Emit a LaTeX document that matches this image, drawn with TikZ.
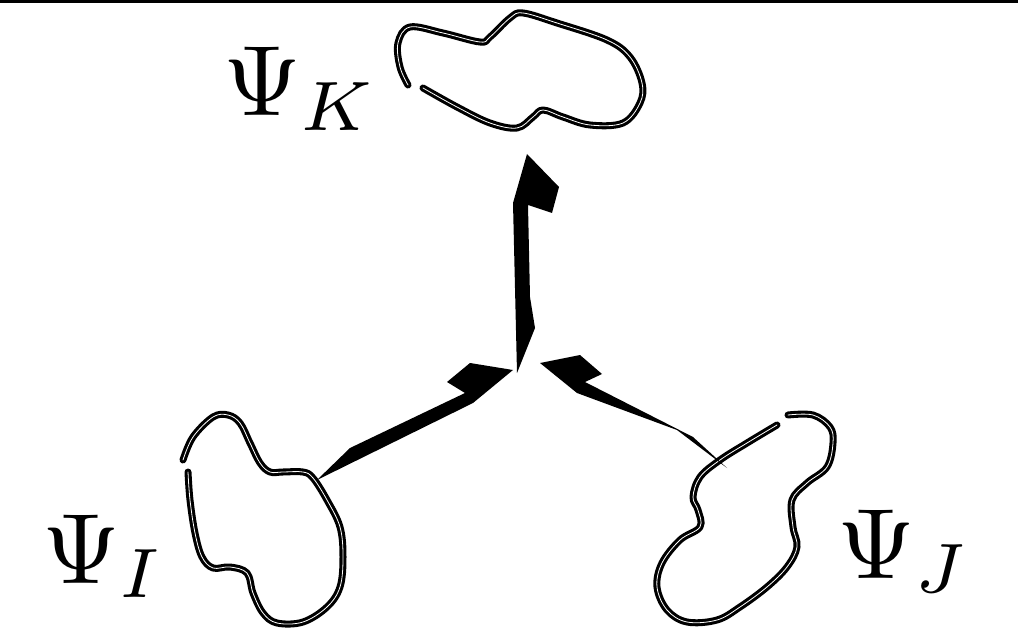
\documentclass[tikz,border=0pt]{standalone}
\begin{document}
\begin{tikzpicture}[x=1pt,y=-1pt,
  blob/.style={preaction={draw=black,line width=7pt,line cap=round,line join=round},draw=white,line width=0.8pt,line cap=round,line join=round},
  wedge/.style={fill=black,draw=none},
  lbl/.style={anchor=base west,inner sep=0pt,scale=10}]
\useasboundingbox (0,0) rectangle (1018,631);
\fill[black] (0,0) rectangle (1018,3.5);
% blobs
\draw[blob] plot[smooth,tension=0.6] coordinates {(423,88) (457,107) (490,123) (517,128) (533,117) (543,110) (563,117) (590,125) (623,123) (640,103) (642,83) (630,57) (607,40) (557,23) (523,13) (510,18) (490,37) (480,42) (443,33) (410,27) (398,43) (400,67) (408,85)};
\draw[blob] plot[smooth,tension=0.6] coordinates {(183,460) (193,437) (213,417) (228,415) (240,423) (250,443) (260,463) (270,472) (283,472) (303,472) (313,478) (327,500) (340,527) (343,557) (340,587) (327,607) (303,622) (277,623) (263,613) (253,593) (247,573) (230,567) (213,568) (202,557) (195,533) (190,500) (188,472)};
\draw[blob] plot[smooth,tension=0.6] coordinates {(788,415) (813,415) (830,427) (833,443) (827,467) (807,483) (792,500) (793,527) (797,547) (787,567) (767,587) (740,607) (717,620) (687,622) (667,610) (657,587) (662,563) (680,540) (700,527) (698,510) (693,497) (700,477) (720,460) (747,443) (777,425)};
% wedge arrows
\coordinate (kt) at (527,154);
\coordinate (kb) at (517,373);
\fill[wedge] (kt) -- (559,187) -- (552,213) -- (528,205) -- (530,297) -- (535,328) -- (kb) -- (513,203) -- cycle;
\coordinate (it) at (513,370);
\coordinate (ib) at (317,480);
\fill[wedge] (it) -- (473,403) -- (ib) -- (350,448) -- (465,393) -- (447,382) -- (470,363) -- cycle;
\coordinate (jt) at (540,363);
\coordinate (jb) at (727,468);
\fill[wedge] (jt) -- (580,355) -- (602,374) -- (585,382) -- (693,437) -- (jb) -- (677,430) -- (577,393) -- cycle;
% labels
\node[lbl] (lk) at (221,116) {$\Psi_K$};
\node[lbl] (li) at (40,583) {$\Psi_I$};
\node[lbl] (lj) at (835,578) {$\Psi_J$};
\end{tikzpicture}
\end{document}
